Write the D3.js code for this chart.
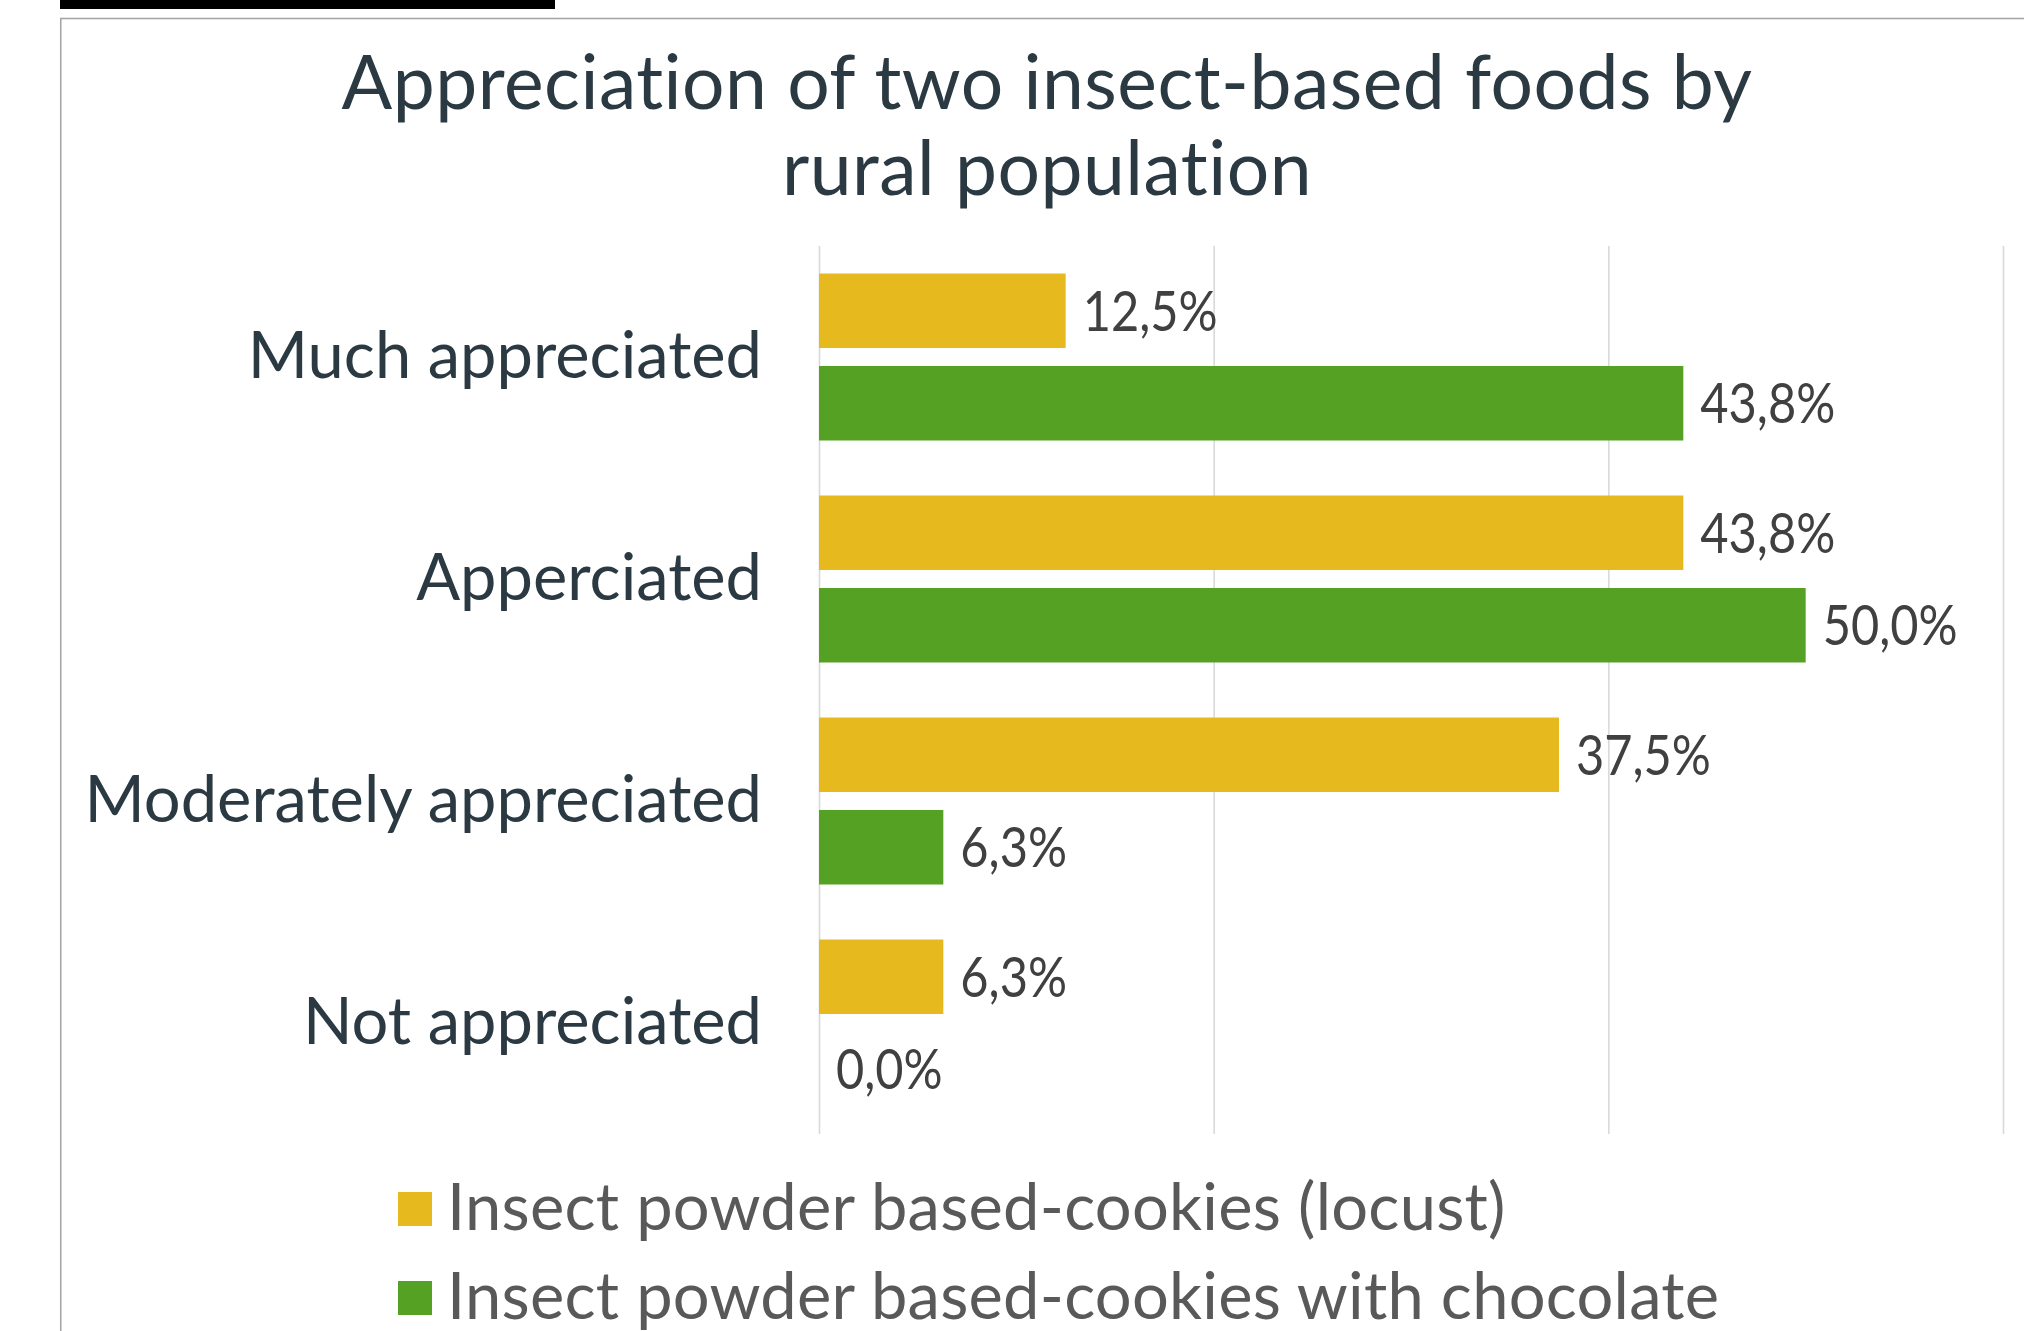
<!DOCTYPE html>
<html>
<head>
<meta charset="utf-8">
<script src="https://cdn.jsdelivr.net/npm/d3@7"></script>
<style>
  html, body { margin: 0; padding: 0; background: #ffffff; }
  svg { display: block; }
  text { font-family: "Lato", "Open Sans", sans-serif; font-variant-ligatures: none; font-feature-settings: "liga" 0, "clig" 0; }
</style>
</head>
<body>
<svg id="chart" width="2024" height="1331"></svg>
<script>
// Survey results: share of respondents per appreciation level
const categories = ["Much appreciated", "Apperciated", "Moderately appreciated", "Not appreciated"];
const seriesNames = ["Insect powder based-cookies (locust)", "Insect powder based-cookies with chocolate"];
const locustValues = [12.5, 43.8, 37.5, 6.3];
const chocolateValues = [43.8, 50.0, 6.3, 0.0];
const xTicks = [0, 20, 40, 60];
const titleLines = ["Appreciation of two insect-based foods by", "rural population"];
const seriesColors = ["#E6B91F", "#55A124"];

const series = [locustValues, chocolateValues];

const svg = d3.select("#chart");

// decorative black strip above the frame
svg.append("rect").attr("x", 60).attr("y", 0).attr("width", 495).attr("height", 9).attr("fill", "#000");

// chart frame
svg.append("rect")
  .attr("x", 60.75).attr("y", 18.5)
  .attr("width", 2100).attr("height", 1400)
  .attr("fill", "#fff").attr("stroke", "#a6a6a6").attr("stroke-width", 1.6);

// title
svg.append("text")
  .attr("x", 1047).attr("text-anchor", "middle")
  .attr("fill", "#2b3a42").attr("font-size", 75).attr("letter-spacing", 0.5)
  .selectAll("tspan").data(titleLines).join("tspan")
  .attr("x", 1047).attr("y", (d, i) => 109 + i * 86)
  .text(d => d);

const plotTop = 246, plotBottom = 1134;
const x = d3.scaleLinear().domain([0, 60]).range([819, 2003]);
const y = d3.scaleBand().domain(categories).range([plotTop, plotBottom]);
const ySub = d3.scaleBand().domain(d3.range(series.length)).range([27.5, y.bandwidth() - 27.5]).paddingInner(0.1946);

// vertical gridlines
const grid = svg.append("g")
  .attr("transform", `translate(0,${plotBottom})`)
  .call(d3.axisBottom(x).tickValues(xTicks).tickSize(-(plotBottom - plotTop)).tickFormat(""));
grid.select(".domain").remove();
grid.selectAll(".tick line").attr("stroke", "#d9d9d9").attr("stroke-width", 1.6);

// category labels
const yAxis = svg.append("g")
  .attr("transform", `translate(${x(0)},0)`)
  .call(d3.axisLeft(y).tickSize(0).tickPadding(57));
yAxis.select(".domain").remove();
yAxis.selectAll(".tick text")
  .attr("font-family", "Lato").attr("font-size", 65).attr("fill", "#2b3a42")
  .attr("dy", "0.33em");

const fmt = v => d3.format(".1f")(v).replace(".", ",") + "%";

// bars and value labels
const groups = svg.append("g").selectAll("g").data(categories).join("g")
  .attr("transform", d => `translate(0,${y(d)})`);

groups.each(function(cat, ci) {
  const g = d3.select(this);
  series.forEach((vals, si) => {
    const v = vals[ci];
    if (v > 0) {
      g.append("rect")
        .attr("x", x(0)).attr("y", ySub(si))
        .attr("width", x(v) - x(0)).attr("height", ySub.bandwidth())
        .attr("fill", seriesColors[si]);
    }
    const label = g.append("text")
      .attr("x", x(v) + 17).attr("y", ySub(si) + ySub.bandwidth() / 2)
      .attr("dy", "0.36em")
      .attr("font-size", 56).attr("fill", "#404040")
      .text(fmt(v));
    // value labels use a slightly condensed setting
    const w = label.node().getComputedTextLength();
    label.attr("textLength", w * 0.87).attr("lengthAdjust", "spacingAndGlyphs");
  });
});

// legend
const legend = svg.append("g").selectAll("g").data(seriesNames).join("g")
  .attr("transform", (d, i) => `translate(398,${1192 + i * 89})`);
legend.append("rect").attr("width", 34).attr("height", 34).attr("fill", (d, i) => seriesColors[i]);
legend.append("text").attr("x", 49).attr("y", 38)
  .attr("font-size", 65).attr("letter-spacing", 0.25).attr("fill", "#595959").text(d => d);
</script>
</body>
</html>
